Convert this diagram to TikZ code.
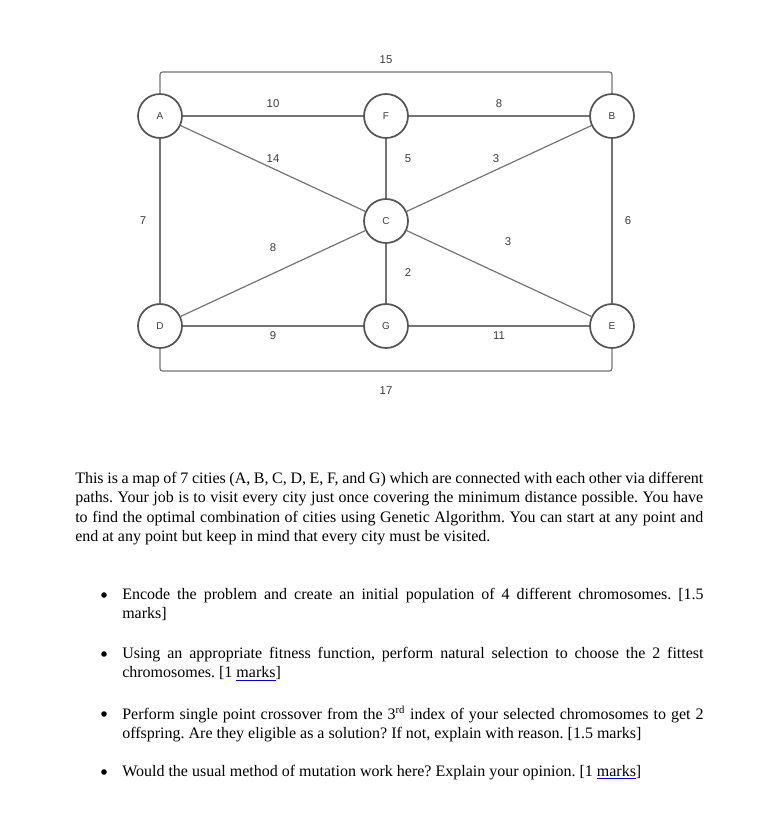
\documentclass[tikz,border=0pt]{standalone}
\usepackage{fontspec}
\setmainfont{Liberation Serif}
\newfontfamily\mapfont{Liberation Sans}
\definecolor{roadgray}{HTML}{747474}
\definecolor{citygray}{HTML}{555555}
\definecolor{numgray}{HTML}{3C3C3C}
\newcommand{\spellmarks}{{\color{blue!80!black}\underline{\color{black}marks}}}
\newcommand{\nohyph}{\hyphenpenalty=10000 \exhyphenpenalty=10000\relax}

\begin{document}
\begin{tikzpicture}[x=0.75pt, y=-0.75pt,
  city/.style={circle, draw=citygray, line width=1.3pt, fill=white, minimum size=33pt,
    inner sep=0pt, font=\mapfont\fontsize{7.5}{9}\selectfont, text=numgray},
  road/.style={draw=roadgray, line width=0.9pt},
  dist/.style={font=\mapfont\fontsize{8.5}{10}\selectfont, text=numgray},
  para/.style={anchor=north west, inner sep=0pt, align=justify,
    font=\fontsize{12}{14.5}\selectfont\frenchspacing\nohyph},
  dot/.style={circle, fill=black, inner sep=0pt, minimum size=4.2pt}]

\useasboundingbox[fill=white] (0,0) rectangle (762,824);

% Cities
\node[city] (A) at (160,116) {A};
\node[city] (F) at (386,116) {F};
\node[city] (B) at (612,116) {B};
\node[city] (C) at (386,221) {C};
\node[city] (D) at (160,326) {D};
\node[city] (G) at (386,326) {G};
\node[city] (E) at (612,326) {E};

% Roads
\coordinate (north15) at (386,72);
\coordinate (south17) at (386,371);
\draw[road, rounded corners=2pt] (A.north) |- (north15) -| (B.north);
\draw[road, rounded corners=2pt] (D.south) |- (south17) -| (E.south);
\draw[road] (A) -- (F);
\draw[road] (F) -- (B);
\draw[road] (A) -- (C);
\draw[road] (F) -- (C);
\draw[road] (B) -- (C);
\draw[road] (A) -- (D);
\draw[road] (B) -- (E);
\draw[road] (D) -- (C);
\draw[road] (C) -- (G);
\draw[road] (C) -- (E);
\draw[road] (D) -- (G);
\draw[road] (G) -- (E);

% Distances
\node[dist] (d15) at (386,60) {15};
\node[dist] (d10) at (273,104) {10};
\node[dist] (d8a) at (499,104) {8};
\node[dist] (d14) at (273,159) {14};
\node[dist] (d5) at (408,159) {5};
\node[dist] (d3a) at (496,159) {3};
\node[dist] (d7) at (143,221) {7};
\node[dist] (d6) at (628,221) {6};
\node[dist] (d8b) at (273,248) {8};
\node[dist] (d3b) at (508,242) {3};
\node[dist] (d2) at (408,273) {2};
\node[dist] (d9) at (273,336) {9};
\node[dist] (d11) at (499,336) {11};
\node[dist] (d17) at (386,391) {17};

% Question text
\node[para, text width=471pt] (intro) at (75,472) {This is a map of 7 cities (A, B, C, D, E, F, and G) which are connected with each other via different paths. Your job is to visit every city just once covering the minimum distance possible. You have to find the optimal combination of cities using Genetic Algorithm. You can start at any point and end at any point but keep in mind that every city must be visited.};

% Tasks
\node[dot] (b1) at (104,595) {};
\node[para, text width=436pt] (t1) at (122,588) {Encode the problem and create an initial population of 4 different chromosomes. [1.5\linebreak marks]};
\node[dot] (b2) at (104,654) {};
\node[para, text width=436pt] (t2) at (122,647) {Using an appropriate fitness function, perform natural selection to choose the 2 fittest chromosomes. [1 \spellmarks]};
\node[dot] (b3) at (104,714) {};
\node[para, text width=436pt] (t3) at (122,706) {Perform single point crossover from the 3\textsuperscript{rd} index of your selected chromosomes to get 2 offspring. Are they eligible as a solution? If not, explain with reason. [1.5 marks]};
\node[dot] (b4) at (104,772) {};
\node[para, text width=436pt] (t4) at (122,765) {Would the usual method of mutation work here? Explain your opinion. [1 \spellmarks]};

\end{tikzpicture}
\end{document}
